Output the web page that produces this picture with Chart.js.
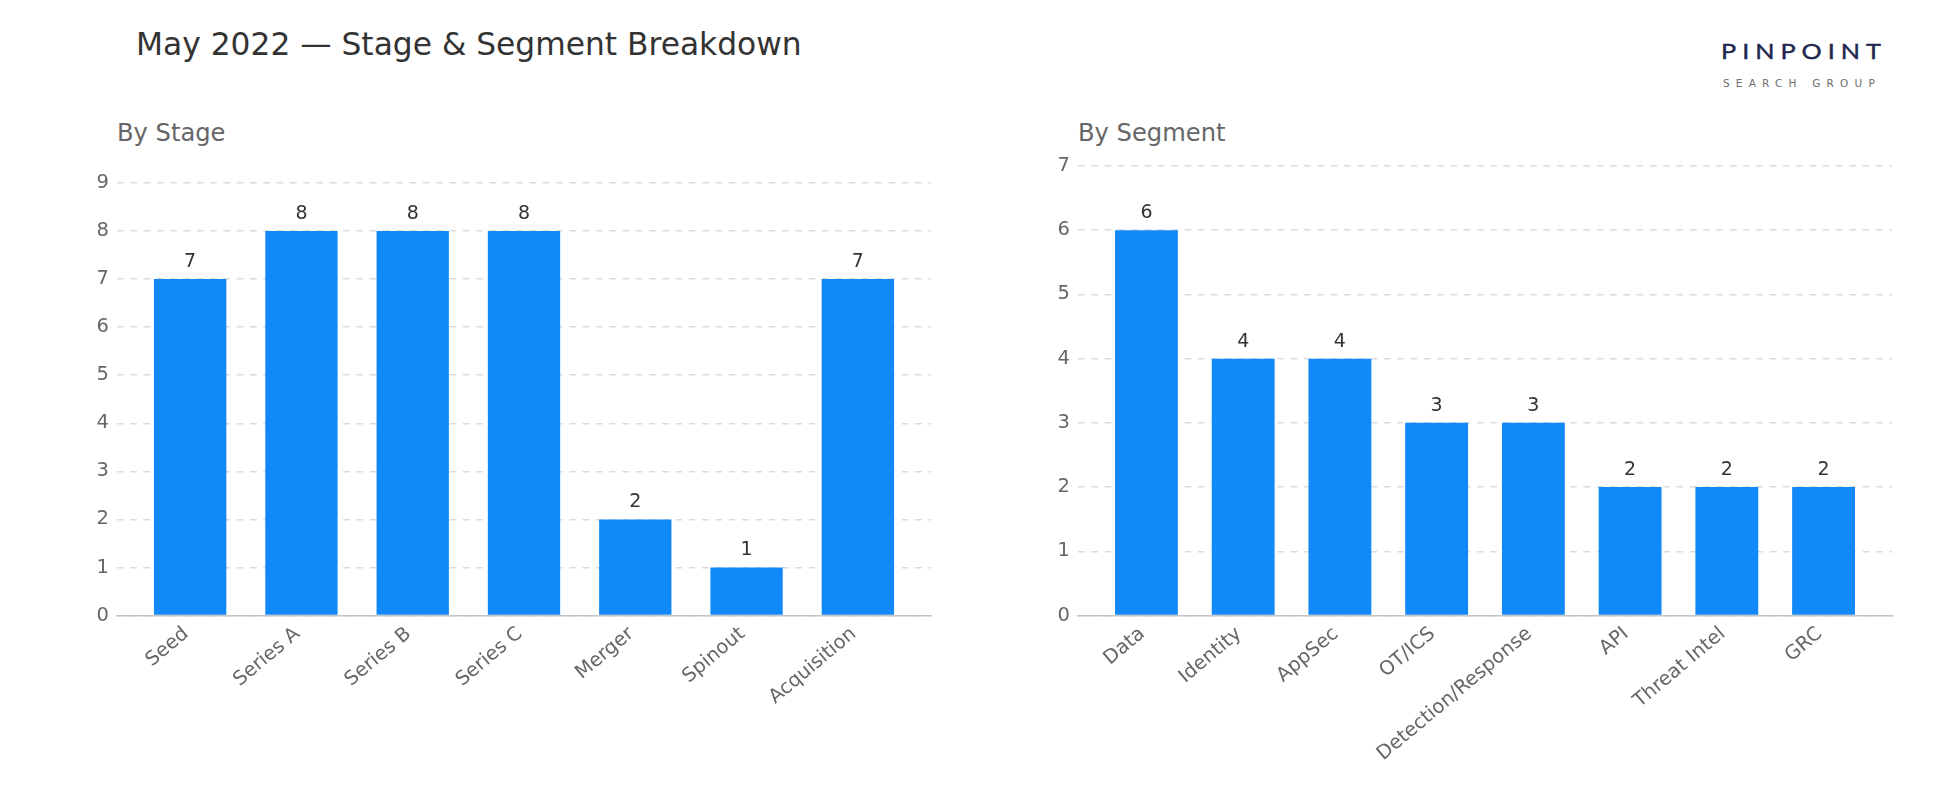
<!DOCTYPE html>
<html>
<head>
<meta charset="utf-8">
<script src="https://cdn.jsdelivr.net/npm/chart.js@4.4.1/dist/chart.umd.min.js"></script>
<style>
  html, body { margin: 0; padding: 0; background: #fff; width: 1950px; height: 810px; overflow: hidden; font-family: "DejaVu Sans", sans-serif; }
  .txt { position: absolute; white-space: nowrap; line-height: 1; }
  #title { left: 136px; top: 29px; font-size: 31.3px; color: #333333; }
  #sub1 { left: 117px; top: 121px; font-size: 24.2px; color: #666666; }
  #sub2 { left: 1078px; top: 121px; font-size: 24.2px; color: #666666; }
  #logo1 { left: 1721px; top: 40px; font-size: 21px; color: #20264e; font-family: "Lato", "DejaVu Sans", sans-serif; font-weight: 400; letter-spacing: 5px; transform: scaleX(1.2); transform-origin: 0 0; -webkit-text-stroke: 0.4px #20264e; }
  #logo2 { left: 1723px; top: 77.5px; font-size: 10.5px; color: #6d6d6d; font-family: "DejaVu Sans", sans-serif; letter-spacing: 6.2px; }
  .cv { position: absolute; top: 0; width: 975px; height: 810px; }
  #c1 { left: 0; }
  #c2 { left: 975px; }
</style>
</head>
<body>
<div id="title" class="txt">May 2022 — Stage &amp; Segment Breakdown</div>
<div id="sub1" class="txt">By Stage</div>
<div id="sub2" class="txt">By Segment</div>
<div id="logo1" class="txt">PINPOINT</div>
<div id="logo2" class="txt">SEARCH GROUP</div>
<div class="cv" id="c1"><canvas id="chart1" width="975" height="810"></canvas></div>
<div class="cv" id="c2"><canvas id="chart2" width="975" height="810"></canvas></div>
<script>
// ---- Data ----
const stageLabels = ["Seed", "Series A", "Series B", "Series C", "Merger", "Spinout", "Acquisition"];
const stageValues = [7, 8, 8, 8, 2, 1, 7];
const segmentLabels = ["Data", "Identity", "AppSec", "OT/ICS", "Detection/Response", "API", "Threat Intel", "GRC"];
const segmentValues = [6, 4, 4, 3, 3, 2, 2, 2];
const stageYTicksMax = 9;
const segmentYTicksMax = 7;

Chart.defaults.font.family = "'DejaVu Sans', sans-serif";
Chart.defaults.animation = false;

const BAR_COLOR = '#1189f8';
const BAR_WIDTH_FRAC = 0.65;

const valueLabels = {
  id: 'valueLabels',
  afterDatasetsDraw(chart) {
    const ctx = chart.ctx;
    const meta = chart.getDatasetMeta(0);
    const ds = chart.data.datasets[0].data;
    ctx.save();
    ctx.font = "19px 'DejaVu Sans'";
    ctx.fillStyle = '#333333';
    ctx.textAlign = 'center';
    ctx.textBaseline = 'alphabetic';
    meta.data.forEach((bar, i) => {
      ctx.fillText(String(ds[i].y), bar.x, bar.y - 12);
    });
    ctx.restore();
  }
};

function makeChart(canvasId, labels, values, yMax, area) {
  const n = labels.length;
  const half = BAR_WIDTH_FRAC / 2;
  const span = (n - 1) + BAR_WIDTH_FRAC;
  const xMin = -half - 0.05 * span;
  const xMax = (n - 1) + half + 0.05 * span;
  const points = values.map((v, i) => ({ x: i, y: v }));
  return new Chart(document.getElementById(canvasId), {
    type: 'bar',
    data: {
      datasets: [{
        data: points,
        backgroundColor: BAR_COLOR,
        borderWidth: 0,
        categoryPercentage: 1.0,
        barPercentage: BAR_WIDTH_FRAC
      }]
    },
    options: {
      responsive: false,
      animation: false,
      layout: { padding: { left: 0, top: area.top, right: area.right, bottom: 0 } },
      plugins: { legend: { display: false }, tooltip: { enabled: false }, title: { display: false } },
      scales: {
        x: {
          type: 'linear',
          offset: false,
          min: xMin,
          max: xMax,
          grid: { display: false, drawTicks: false, offset: false },
          border: { display: true, color: '#c4c4c4', width: 1.6 },
          ticks: {
            stepSize: 1,
            includeBounds: false,
            autoSkip: false,
            minRotation: 40,
            maxRotation: 40,
            padding: 7,
            labelOffset: -4,
            color: '#666666',
            font: { size: 19.5 },
            callback: (v) => (Number.isInteger(v) && labels[v] !== undefined) ? labels[v] : ''
          },
          afterFit: (s) => { s.height = area.xAxisHeight; }
        },
        y: {
          min: 0,
          max: yMax,
          grid: { color: '#dcdcdc', lineWidth: 1.5, drawTicks: false },
          border: { display: false, dash: [6.7, 6.6] },
          ticks: { stepSize: 1, padding: 8, color: '#666666', font: { size: 19.5 } },
          afterFit: (s) => { s.width = area.left; }
        }
      }
    },
    plugins: [valueLabels]
  });
}

makeChart('chart1', stageLabels, stageValues, stageYTicksMax,
  { left: 117, top: 183, right: 975 - 931, xAxisHeight: 810 - 615.5 });
makeChart('chart2', segmentLabels, segmentValues, segmentYTicksMax,
  { left: 1078 - 975, top: 166, right: 975 - 917, xAxisHeight: 810 - 615.5 });
</script>
</body>
</html>
